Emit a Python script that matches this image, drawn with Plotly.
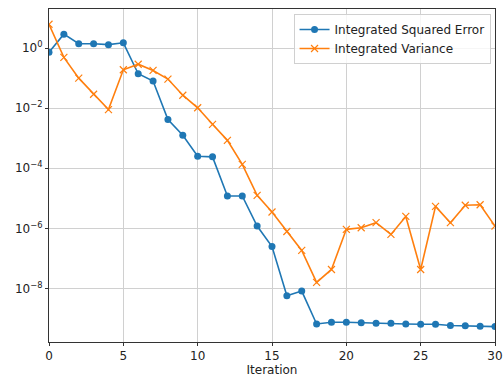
import plotly.graph_objects as go

iterations = list(range(31))
ise = [0.72, 2.9, 1.4, 1.4, 1.3, 1.5, 0.14, 0.08, 0.0042, 0.00126, 2.5e-4, 2.4e-4,
       1.2e-5, 1.2e-5, 1.2e-6, 2.5e-7, 5.7e-9, 8.2e-9, 6.6e-10, 7.5e-10, 7.5e-10,
       7.2e-10, 7.0e-10, 7.0e-10, 6.6e-10, 6.5e-10, 6.5e-10, 5.9e-10, 5.8e-10,
       5.6e-10, 5.4e-10]
ivar = [6.2, 0.49, 0.10, 0.029, 0.009, 0.19, 0.29, 0.18, 0.093, 0.027, 0.0103,
        0.0029, 8.5e-4, 1.35e-4, 1.26e-5, 3.5e-6, 7.9e-7, 1.85e-7, 1.6e-8, 4.3e-8,
        9.3e-7, 1.05e-6, 1.55e-6, 6.3e-7, 2.5e-6, 4.3e-8, 5.4e-6, 1.55e-6, 5.9e-6,
        6.1e-6, 1.2e-6]
y_tickvals = [1e0, 1e-2, 1e-4, 1e-6, 1e-8]
y_ticktext = ["10<sup>0</sup>", "10<sup>−2</sup>", "10<sup>−4</sup>", "10<sup>−6</sup>", "10<sup>−8</sup>"]
x_tickvals = [0, 5, 10, 15, 20, 25, 30]

fig = go.Figure()
fig.add_trace(go.Scatter(x=iterations, y=ise, mode="lines+markers",
                         name="Integrated Squared Error",
                         line=dict(color="#1f77b4", width=1.6),
                         marker=dict(symbol="circle", size=7, color="#1f77b4")))
fig.add_trace(go.Scatter(x=iterations, y=ivar, mode="lines+markers",
                         name="Integrated Variance",
                         line=dict(color="#ff7f0e", width=1.6),
                         marker=dict(symbol="x-thin", size=7,
                                     line=dict(color="#ff7f0e", width=1.2))))

fig.update_layout(
    width=503, height=379,
    margin=dict(l=49, r=8, t=9, b=37),
    paper_bgcolor="white", plot_bgcolor="white",
    font=dict(family="DejaVu Sans", size=12, color="#222"),
    legend=dict(x=0.99, y=0.985, xanchor="right", yanchor="top",
                bgcolor="rgba(255,255,255,0.8)", bordercolor="#d0d0d0",
                borderwidth=1, font=dict(size=12), tracegroupgap=0),
    showlegend=True,
)
fig.update_xaxes(range=[0, 30], tickvals=x_tickvals, showgrid=True,
                 gridcolor="#d0d0d0", gridwidth=1, zeroline=False,
                 showline=True, linecolor="#333", linewidth=1, mirror=True,
                 ticks="outside", ticklen=3, tickcolor="#333", automargin=False,
                 title=dict(text="Iteration", standoff=3, font=dict(size=12)))
fig.update_yaxes(type="log", range=[-9.78, 1.30], tickvals=y_tickvals,
                 ticktext=y_ticktext, showgrid=True, gridcolor="#d0d0d0",
                 gridwidth=1, zeroline=False, showline=True, linecolor="#333",
                 linewidth=1, mirror=True, ticks="outside", ticklen=3,
                 tickcolor="#333", automargin=False)

fig.write_html("out.html")
